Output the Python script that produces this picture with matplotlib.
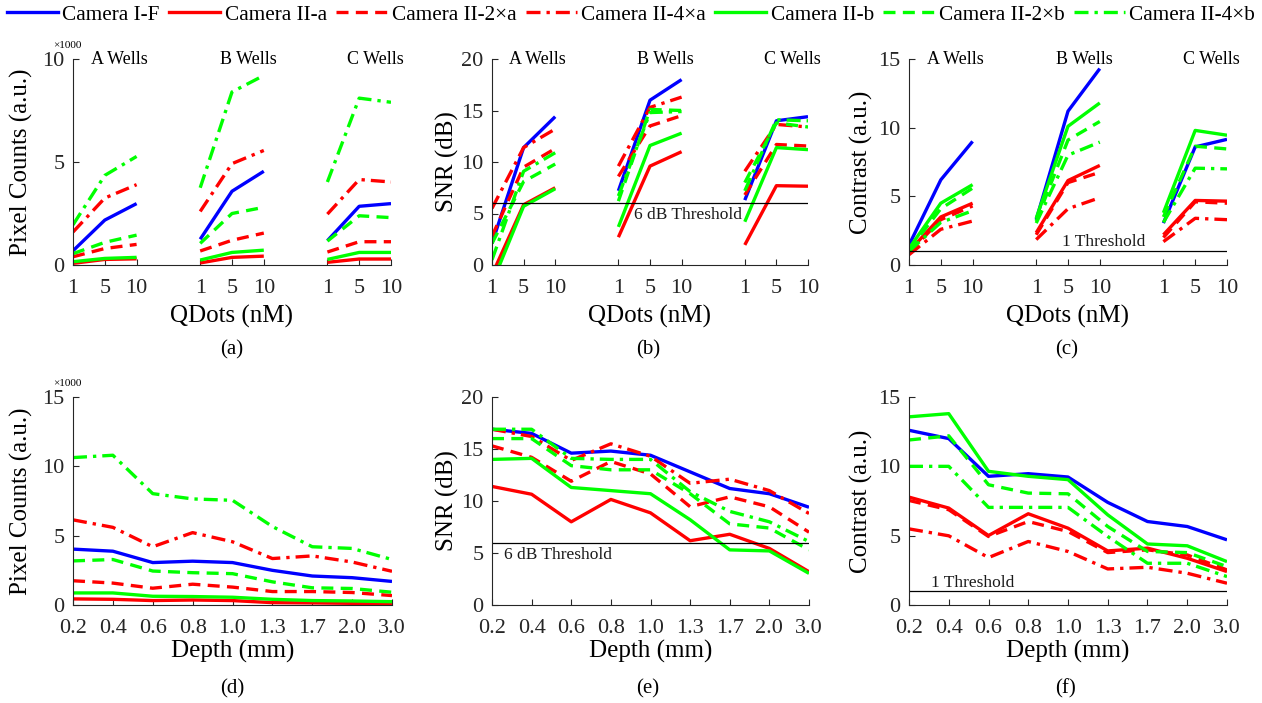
import matplotlib
matplotlib.use("Agg")
import matplotlib.pyplot as plt
from matplotlib.lines import Line2D

plt.rcParams['font.family'] = ['Liberation Serif', 'DejaVu Serif']

# ---------------- data ----------------
series_names = ['Camera I-F', 'Camera II-a', 'Camera II-2\u00d7a', 'Camera II-4\u00d7a',
                'Camera II-b', 'Camera II-2\u00d7b', 'Camera II-4\u00d7b']
wells = ['A Wells', 'B Wells', 'C Wells']
qdot_labels = ['1', '5', '10']
depth_labels = ['0.2', '0.4', '0.6', '0.8', '1.0', '1.3', '1.7', '2.0', '3.0']

# Top row: values per series in order A1,A5,A10,B1,B5,B10,C1,C5,C10
pix_IF   = [0.69, 2.18, 2.98, 1.25, 3.58, 4.55, 1.18, 2.85, 2.98]
pix_IIa  = [0.08, 0.27, 0.30, 0.10, 0.37, 0.43, 0.13, 0.29, 0.29]
pix_II2a = [0.40, 0.80, 1.00, 0.68, 1.20, 1.55, 0.63, 1.13, 1.13]
pix_II4a = [1.60, 3.25, 3.90, 2.60, 4.92, 5.56, 2.47, 4.15, 4.03]
pix_IIb  = [0.16, 0.32, 0.37, 0.24, 0.61, 0.72, 0.27, 0.61, 0.61]
pix_II2b = [0.55, 1.10, 1.45, 1.05, 2.50, 2.80, 1.16, 2.39, 2.30]
pix_II4b = [1.95, 4.35, 5.27, 3.75, 8.40, 9.20, 4.03, 8.10, 7.90]

snr_IF   = [2.1, 11.4, 14.4, 7.2, 16.0, 18.0, 6.3, 14.0, 14.4]
snr_IIa  = [-0.95, 5.85, 7.5, 2.7, 9.6, 11.0, 1.95, 7.7, 7.65]
snr_II2a = [2.8, 9.5, 11.3, 8.6, 13.5, 14.5, 6.8, 11.7, 11.55]
snr_II4a = [5.5, 11.4, 13.2, 9.6, 15.3, 16.3, 9.1, 13.65, 13.4]
snr_IIb  = [-1.8, 5.7, 7.4, 3.7, 11.6, 12.8, 4.2, 11.4, 11.2]
snr_II2b = [2.1, 8.1, 9.8, 6.2, 15.1, 15.0, 8.0, 13.8, 13.4]
snr_II4b = [0.5, 9.1, 10.9, 6.7, 14.8, 14.9, 7.2, 14.1, 14.0]

con_IF   = [1.45, 6.2, 9.0, 3.3, 11.2, 14.3, 3.05, 8.6, 9.15]
con_IIa  = [1.0, 3.5, 4.5, 2.35, 6.15, 7.25, 2.2, 4.7, 4.65]
con_II2a = [0.9, 3.3, 4.3, 2.2, 6.0, 6.75, 2.0, 4.6, 4.5]
con_II4a = [0.75, 2.6, 3.2, 1.85, 4.1, 4.9, 1.7, 3.4, 3.3]
con_IIb  = [1.2, 4.5, 5.85, 3.4, 10.1, 11.8, 3.8, 9.8, 9.45]
con_II2b = [1.1, 4.1, 5.6, 3.2, 9.1, 10.45, 3.5, 8.65, 8.45]
con_II4b = [1.0, 3.1, 3.95, 3.05, 8.0, 8.95, 3.1, 7.05, 7.0]

# Bottom row: values per depth
dpix_IF   = [4.03, 3.88, 3.06, 3.16, 3.06, 2.50, 2.09, 1.97, 1.70]
dpix_IIa  = [0.44, 0.41, 0.32, 0.36, 0.32, 0.17, 0.15, 0.12, 0.07]
dpix_II2a = [1.75, 1.58, 1.21, 1.50, 1.29, 0.97, 0.97, 0.90, 0.68]
dpix_II4a = [6.14, 5.60, 4.20, 5.22, 4.56, 3.35, 3.54, 3.10, 2.43]
dpix_IIb  = [0.87, 0.87, 0.63, 0.61, 0.56, 0.41, 0.32, 0.29, 0.24]
dpix_II2b = [3.18, 3.28, 2.45, 2.33, 2.26, 1.67, 1.24, 1.19, 0.92]
dpix_II4b = [10.63, 10.80, 8.03, 7.65, 7.55, 5.66, 4.20, 4.08, 3.28]

dsnr_IF   = [16.9, 16.5, 14.6, 14.8, 14.4, 12.8, 11.2, 10.7, 9.4]
dsnr_IIa  = [11.4, 10.65, 8.0, 10.15, 8.86, 6.18, 6.8, 5.44, 3.2]
dsnr_II2a = [15.3, 14.2, 11.9, 13.8, 12.6, 9.45, 10.4, 9.44, 7.0]
dsnr_II4a = [16.9, 16.2, 13.9, 15.5, 14.3, 11.7, 12.1, 11.0, 8.8]
dsnr_IIb  = [14.0, 14.1, 11.3, 11.0, 10.7, 8.2, 5.3, 5.2, 3.04]
dsnr_II2b = [16.0, 16.0, 13.4, 13.0, 13.0, 10.7, 7.8, 7.4, 5.3]
dsnr_II4b = [16.9, 16.9, 14.1, 14.0, 14.0, 10.9, 9.0, 8.0, 6.1]

dcon_IF   = [12.6, 12.0, 9.28, 9.47, 9.23, 7.4, 6.02, 5.66, 4.7]
dcon_IIa  = [7.78, 6.99, 5.01, 6.58, 5.54, 3.9, 4.1, 3.37, 2.41]
dcon_II2a = [7.54, 6.87, 4.94, 6.02, 5.3, 3.78, 3.98, 3.61, 2.53]
dcon_II4a = [5.49, 4.99, 3.42, 4.58, 3.86, 2.6, 2.72, 2.29, 1.57]
dcon_IIb  = [13.57, 13.8, 9.64, 9.28, 9.04, 6.5, 4.4, 4.27, 3.13]
dcon_II2b = [11.9, 12.2, 8.67, 8.07, 8.02, 5.66, 3.86, 3.78, 2.77]
dcon_II4b = [10.0, 10.0, 7.04, 7.04, 7.04, 4.94, 3.01, 3.01, 2.05]

top_pix = [pix_IF, pix_IIa, pix_II2a, pix_II4a, pix_IIb, pix_II2b, pix_II4b]
top_snr = [snr_IF, snr_IIa, snr_II2a, snr_II4a, snr_IIb, snr_II2b, snr_II4b]
top_con = [con_IF, con_IIa, con_II2a, con_II4a, con_IIb, con_II2b, con_II4b]
bot_pix = [dpix_IF, dpix_IIa, dpix_II2a, dpix_II4a, dpix_IIb, dpix_II2b, dpix_II4b]
bot_snr = [dsnr_IF, dsnr_IIa, dsnr_II2a, dsnr_II4a, dsnr_IIb, dsnr_II2b, dsnr_II4b]
bot_con = [dcon_IF, dcon_IIa, dcon_II2a, dcon_II4a, dcon_IIb, dcon_II2b, dcon_II4b]

# ---------------- styles ----------------
colors = ['#0000ff', '#ff0000', '#ff0000', '#ff0000', '#00ff00', '#00ff00', '#00ff00']
DASH = (0, (3.6, 2.2))
DASHDOT = (0, (4.2, 1.8, 1.0, 1.8))
styles = ['-', '-', DASH, DASHDOT, '-', DASH, DASHDOT]
LW = 2.4
AX_C = '#262626'

W, H = 1262, 703
fig = plt.figure(figsize=(W / 100, H / 100), dpi=100)

def px_axes(l, t, r, b):
    return fig.add_axes([l / W, 1 - b / H, (r - l) / W, (b - t) / H])

def style_axes(ax):
    for s in ['top', 'right']:
        ax.spines[s].set_visible(False)
    for s in ['left', 'bottom']:
        ax.spines[s].set_color(AX_C)
        ax.spines[s].set_linewidth(0.8)
    ax.tick_params(direction='in', length=4, width=0.8, color=AX_C,
                   labelsize=16, labelcolor=AX_C)
    ax.tick_params(axis='x', pad=10)
    ax.tick_params(axis='y', pad=6)

group_x = [[0, 1, 2], [4, 5, 6], [8, 9, 10]]

def finish(ax, ylabel, xlabel, xlab_y, thr, thr_text, thr_pos, above, scale):
    if thr is not None:
        ax.axhline(thr, color='black', lw=0.9)
        ax.text(thr_pos[0], thr_pos[1], thr_text, fontsize=12.5,
                va='baseline' if above else 'top', ha='left', color='#1a1a1a')
    style_axes(ax)
    ax.set_ylabel(ylabel, fontsize=18, va='center')
    ax.set_xlabel(xlabel, fontsize=18, va='center')
    ax.xaxis.set_label_coords(0.5, xlab_y)
    if scale:
        ax.text(-0.063, 1.045, '\u00d71000', transform=ax.transAxes, fontsize=8,
                ha='left', va='bottom')

def top_panel(ax, data, ylim, yticks, ylabel, thr=None, thr_text=None, thr_pos=None,
              above=False, scale=False):
    for vals, c, ls in zip(data, colors, styles):
        for g, xs in enumerate(group_x):
            ax.plot(xs, vals[3 * g:3 * g + 3], color=c, linestyle=ls, lw=LW,
                    solid_capstyle='butt', dash_capstyle='butt')
    ax.set_xlim(0, 10)
    ax.set_ylim(*ylim)
    ax.set_yticks(yticks)
    ax.set_xticks([x for xs in group_x for x in xs])
    ax.set_xticklabels(qdot_labels * 3)
    for name, xc in zip(wells, [1.45, 5.5, 9.5]):
        ax.text(xc, ylim[1], name, ha='center', va='center', fontsize=13)
    finish(ax, ylabel, 'QDots (nM)', -0.25, thr, thr_text, thr_pos, above, scale)

def bot_panel(ax, data, ylim, yticks, ylabel, thr=None, thr_text=None, thr_pos=None,
              above=False, scale=False):
    xs = list(range(len(depth_labels)))
    for vals, c, ls in zip(data, colors, styles):
        ax.plot(xs, vals, color=c, linestyle=ls, lw=LW,
                solid_capstyle='butt', dash_capstyle='butt')
    ax.set_xlim(0, 8)
    ax.set_ylim(*ylim)
    ax.set_yticks(yticks)
    ax.set_xticks(xs)
    ax.set_xticklabels(depth_labels)
    finish(ax, ylabel, 'Depth (mm)', -0.225, thr, thr_text, thr_pos, above, scale)

axa = px_axes(73, 59, 391, 265)
axb = px_axes(492, 59, 808, 265)
axc = px_axes(909, 59, 1227, 265)
axd = px_axes(73, 397, 392, 605)
axe = px_axes(492, 397, 809, 605)
axf = px_axes(909, 397, 1227, 605)

top_panel(axa, top_pix, (0, 10), [0, 5, 10], 'Pixel Counts (a.u.)', scale=True)
top_panel(axb, top_snr, (0, 20), [0, 5, 10, 15, 20], 'SNR (dB)',
          thr=6, thr_text='6 dB Threshold', thr_pos=(4.5, 5.6))
top_panel(axc, top_con, (0, 15), [0, 5, 10, 15], 'Contrast (a.u.)',
          thr=1, thr_text='1 Threshold', thr_pos=(4.8, 1.35), above=True)
bot_panel(axd, bot_pix, (0, 15), [0, 5, 10, 15], 'Pixel Counts (a.u.)', scale=True)
bot_panel(axe, bot_snr, (0, 20), [0, 5, 10, 15, 20], 'SNR (dB)',
          thr=6, thr_text='6 dB Threshold', thr_pos=(0.3, 5.6))
bot_panel(axf, bot_con, (0, 15), [0, 5, 10, 15], 'Contrast (a.u.)',
          thr=1, thr_text='1 Threshold', thr_pos=(0.55, 1.3), above=True)

axa.yaxis.set_label_coords((21 - 73) / 318, 0.5)
axd.yaxis.set_label_coords((21 - 73) / 319, 0.5)
axb.yaxis.set_label_coords((447 - 492) / 316, 0.5)
axe.yaxis.set_label_coords((447 - 492) / 317, 0.5)
axc.yaxis.set_label_coords((861 - 909) / 318, 0.5)
axf.yaxis.set_label_coords((861 - 909) / 318, 0.5)

# panel letters
for lab, x, y in [('(a)', 232, 350), ('(b)', 648, 350), ('(c)', 1067, 350),
                  ('(d)', 232, 689), ('(e)', 648, 689), ('(f)', 1065, 689)]:
    fig.text(x / W, 1 - y / H, lab, ha='center', va='center', fontsize=15)

# legend
handles = [Line2D([0], [0], color=c, linestyle=ls, lw=LW) for c, ls in zip(colors, styles)]
fig.legend(handles, series_names, loc='upper center', bbox_to_anchor=(0.5, 1.005),
           ncol=7, frameon=False, fontsize=15.3, handlelength=2.4, handletextpad=0.2,
           columnspacing=0.45, borderaxespad=0.2, borderpad=0.2)

fig.savefig('out.png', dpi=100)
